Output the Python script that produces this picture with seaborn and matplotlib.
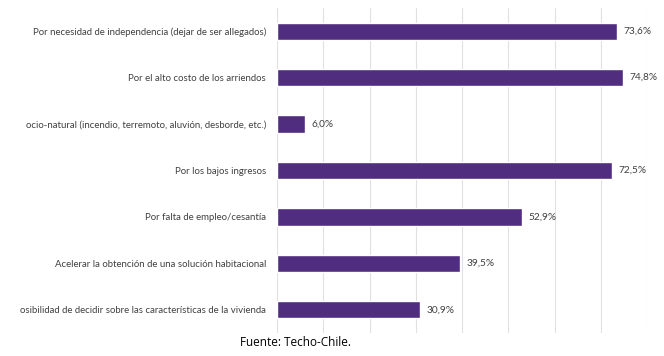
import matplotlib
matplotlib.use("Agg")
import matplotlib.pyplot as plt
import seaborn as sns
import pandas as pd

categories = [
    "Por necesidad de independencia (dejar de ser allegados)",
    "Por el alto costo de los arriendos",
    "ocio-natural (incendio, terremoto, aluvión, desborde, etc.)",
    "Por los bajos ingresos",
    "Por falta de empleo/cesantía",
    "Acelerar la obtención de una solución habitacional",
    "osibilidad de decidir sobre las características de la vivienda",
]
values = [73.6, 74.8, 6.0, 72.5, 52.9, 39.5, 30.9]
value_labels = ["73,6%", "74,8%", "6,0%", "72,5%", "52,9%", "39,5%", "30,9%"]
source = "Fuente: Techo-Chile."

sns.set_theme(style="white")
plt.rcParams['font.family'] = ['Lato', 'DejaVu Sans']

df = pd.DataFrame({"cat": categories, "val": values})

fig = plt.figure(figsize=(6.64, 3.56), dpi=100)
ax = fig.add_axes([277/664, 1-333/356, (647-277)/664, (333-8)/356])
sns.barplot(data=df, y="cat", x="val", color="#502d7e", saturation=1,
            width=0.37, ax=ax, orient="h")
ax.set_xlim(0, 80)
ax.set_ylim(6.5, -0.5)
ax.set_xticks(range(0, 81, 10))
ax.set_xticklabels([])
ax.tick_params(axis="x", length=0)
ax.tick_params(axis="y", length=0, pad=8, labelsize=6.9, labelcolor="#404040")
ax.grid(axis="x", color="#e0e0e0", linewidth=0.8)
ax.set_axisbelow(True)
for s in ax.spines.values():
    s.set_visible(False)
ax.set_xlabel("")
ax.set_ylabel("")
for i, (v, lab) in enumerate(zip(values, value_labels)):
    ax.text(v + 1.4, i, lab, va="center", ha="left", fontsize=7.3, color="#404040")

fig.text(240/664, 1-343/356, source, ha="left", va="center", fontsize=8.5,
         color="#000000", family=["Open Sans", "DejaVu Sans"])
fig.savefig("out.png", dpi=100)
